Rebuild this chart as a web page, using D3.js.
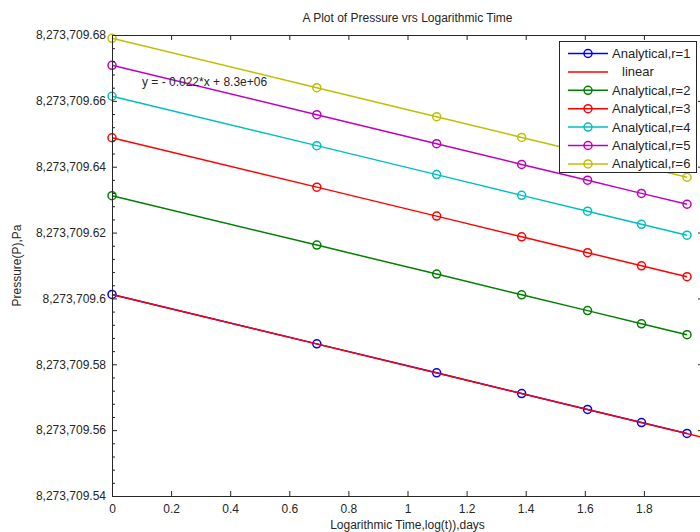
<!DOCTYPE html>
<html><head><meta charset="utf-8">
<script src="https://cdn.jsdelivr.net/npm/d3@7"></script>
<style>
html,body{margin:0;padding:0;background:#fff;}
svg{display:block;font-family:"Liberation Sans",Arial,sans-serif;}
</style></head>
<body><svg id="c" width="700" height="532"></svg>
<script>
// time points (log of days 1..7)
const logT = [0, 0.6931, 1.0986, 1.3863, 1.6094, 1.7918, 1.9459];
// analytical pressures, Pa
const pR1 = [8273709.6012, 8273709.5862, 8273709.5774, 8273709.5711, 8273709.5663, 8273709.5623, 8273709.5590];
const pR2 = [8273709.6312, 8273709.6162, 8273709.6074, 8273709.6011, 8273709.5963, 8273709.5923, 8273709.5890];
const pR3 = [8273709.6488, 8273709.6338, 8273709.6250, 8273709.6187, 8273709.6139, 8273709.6099, 8273709.6066];
const pR4 = [8273709.6614, 8273709.6464, 8273709.6376, 8273709.6313, 8273709.6265, 8273709.6225, 8273709.6192];
const pR5 = [8273709.6708, 8273709.6558, 8273709.6470, 8273709.6407, 8273709.6359, 8273709.6319, 8273709.6286];
const pR6 = [8273709.6790, 8273709.6640, 8273709.6552, 8273709.6489, 8273709.6441, 8273709.6401, 8273709.6368];
// linear fit line endpoints
const fitX = [0, 2];
const fitY = [8273709.6012, 8273709.5578];
const xTicks = [0, 0.2, 0.4, 0.6, 0.8, 1, 1.2, 1.4, 1.6, 1.8, 2];
const xTickLabels = ["0","0.2","0.4","0.6","0.8","1","1.2","1.4","1.6","1.8",""];
const yTicks = [8273709.54, 8273709.56, 8273709.58, 8273709.60, 8273709.62, 8273709.64, 8273709.66, 8273709.68];
const seriesNames = ["Analytical,r=1","linear","Analytical,r=2","Analytical,r=3","Analytical,r=4","Analytical,r=5","Analytical,r=6"];
const titleText = "A Plot of Pressure vrs Logarithmic Time";
const xLabel = "Logarithmic Time,log(t)),days";
const yLabel = "Pressure(P),Pa";
const fitText = "y = - 0.022*x + 8.3e+06";

const svg = d3.select("#c");
svg.append("rect").attr("width",700).attr("height",532).attr("fill","#fff");
const L=112, R=703, T=35, B=496;
const x = d3.scaleLinear().domain([0,2]).range([L,R]);
const y = d3.scaleLinear().domain([8273709.54, 8273709.68]).range([B,T]);
const fmt = d3.format(",.2~f");

const series = [
  {name:seriesNames[0], xs:logT, ys:pR1, color:"#0000ff", marker:true},
  {name:seriesNames[1], xs:fitX, ys:fitY, color:"#ff0000", marker:false},
  {name:seriesNames[2], xs:logT, ys:pR2, color:"#008000", marker:true},
  {name:seriesNames[3], xs:logT, ys:pR3, color:"#ff0000", marker:true},
  {name:seriesNames[4], xs:logT, ys:pR4, color:"#00bfbf", marker:true},
  {name:seriesNames[5], xs:logT, ys:pR5, color:"#bf00bf", marker:true},
  {name:seriesNames[6], xs:logT, ys:pR6, color:"#bfbf00", marker:true}
];

svg.append("clipPath").attr("id","pc").append("rect")
  .attr("x",L-6).attr("y",T-6).attr("width",R-L+12).attr("height",B-T+12);
const plot = svg.append("g").attr("clip-path","url(#pc)");
const line = d3.line();
series.forEach(s=>{
  const pts = s.xs.map((v,i)=>[x(v), y(s.ys[i])]);
  plot.append("path").attr("d",line(pts)).attr("fill","none")
    .attr("stroke",s.color).attr("stroke-width",1.5);
  if(s.marker){
    plot.selectAll(null).data(pts).enter().append("circle")
      .attr("cx",d=>d[0]).attr("cy",d=>d[1]).attr("r",4)
      .attr("fill","none").attr("stroke",s.color).attr("stroke-width",1.5);
  }
});

// axes
const axB = d3.axisBottom(x).tickValues(xTicks).tickSize(-5).tickPadding(8)
  .tickFormat((d,i)=>xTickLabels[i]);
const gB = svg.append("g").attr("transform",`translate(0,${B})`).call(axB);
const axT = d3.axisTop(x).tickValues(xTicks).tickSize(-5).tickFormat("");
const gT = svg.append("g").attr("transform",`translate(0,${T})`).call(axT);
const axL = d3.axisLeft(y).tickValues(yTicks).tickSize(-5).tickPadding(6).tickFormat(fmt);
const gL = svg.append("g").attr("transform",`translate(${L},0)`).call(axL);
const axR = d3.axisRight(y).tickValues(yTicks).tickSize(-5).tickFormat("");
const gR = svg.append("g").attr("transform",`translate(${R},0)`).call(axR);
// minor ticks on left
const minor = d3.range(0,36).map(i=>8273709.54+i*0.004).filter((v,i)=>i%5!==0);
const axLm = d3.axisLeft(y).tickValues(minor).tickSize(-3).tickFormat("");
const gLm = svg.append("g").attr("transform",`translate(${L},0)`).call(axLm);
[gB,gT,gL,gR,gLm].forEach(g=>{
  g.select(".domain").attr("stroke","#262626").attr("stroke-width",1);
  g.selectAll(".tick line").attr("stroke","#262626");
  g.selectAll("text").attr("fill","#262626").style("font-size","12px")
   .style("font-family","'Liberation Sans',Arial,sans-serif");
});
gLm.select(".domain").remove();

// title & labels
svg.append("text").attr("x",(L+R)/2).attr("y",22).attr("text-anchor","middle")
  .style("font-size","12px").attr("fill","#262626").text(titleText);
svg.append("text").attr("x",(L+R)/2).attr("y",529).attr("text-anchor","middle")
  .style("font-size","12px").attr("fill","#262626").text(xLabel);
svg.append("text").attr("transform",`translate(21,${(T+B)/2}) rotate(-90)`).attr("text-anchor","middle")
  .style("font-size","12px").attr("fill","#262626").text(yLabel);
svg.append("text").attr("x",142).attr("y",86)
  .style("font-size","12px").attr("fill","#262626").text(fitText);

// legend
const lg = svg.append("g");
lg.append("rect").attr("x",559.5).attr("y",41.5).attr("width",137).attr("height",131)
  .attr("fill","#fff").attr("stroke","#262626").attr("stroke-width",1);
series.forEach((s,i)=>{
  const cy = 53.5 + i*18.4;
  lg.append("line").attr("x1",568).attr("x2",608).attr("y1",cy).attr("y2",cy)
    .attr("stroke",s.color).attr("stroke-width",1.5);
  if(s.marker) lg.append("circle").attr("cx",588).attr("cy",cy).attr("r",4)
    .attr("fill","none").attr("stroke",s.color).attr("stroke-width",1.5);
  lg.append("text").attr("x", s.marker?612:622).attr("y",cy+4.5)
    .style("font-size","13px").attr("fill","#262626").text(s.name);
});
</script></body></html>
